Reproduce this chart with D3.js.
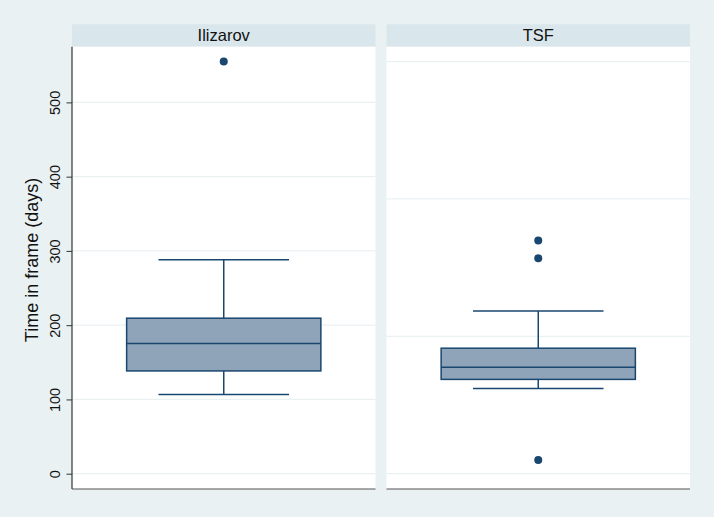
<!DOCTYPE html>
<html>
<head>
<meta charset="utf-8">
<script src="https://cdn.jsdelivr.net/npm/d3@7"></script>
<style>
  html, body { margin: 0; padding: 0; background: #eaf1f3; }
  svg { display: block; font-family: "Liberation Sans", Arial, sans-serif; }
</style>
</head>
<body>
<svg id="chart" width="714" height="517"></svg>
<script>
// ---- data ----
const groups = ["Ilizarov", "TSF"];
const q1 = [138.4, 127];
const medians = [175.2, 143.4];
const q3 = [209.4, 169];
const whiskerLow = [106.5, 114.6];
const whiskerHigh = [288, 219];
const outliers = [[555], [314, 290, 18.5]];
const yTicks = [0, 100, 200, 300, 400, 500];
const tsfGridValues = [0, 185, 370, 555];
const yTitle = "Time in frame (days)";

// ---- layout ----
const W = 714, H = 517;
const plotTop = 46.7, plotBottom = 489, headerTop = 24.3;
const svg = d3.select("#chart");
svg.append("rect").attr("width", W).attr("height", H).attr("fill", "#eaf1f3");

const x = d3.scaleBand().domain(groups).range([72, 690]).paddingInner(0.035).paddingOuter(0);
const y = d3.scaleLinear().domain([-20.6, 575]).range([plotBottom, plotTop]);

const navy = "#1a476f";
const boxFill = "#8fa4b9";
const gridColor = "#eaf1f3";

groups.forEach((g, i) => {
  const x0 = x(g), bw = x.bandwidth(), cx = x0 + bw / 2;
  const panel = svg.append("g");
  // header strip
  panel.append("rect").attr("x", x0).attr("y", headerTop).attr("width", bw)
    .attr("height", plotTop - headerTop).attr("fill", "#d9e6eb");
  panel.append("text").attr("x", cx).attr("y", headerTop + 17)
    .attr("text-anchor", "middle").attr("font-size", 16.5).attr("fill", "#111")
    .text(g);
  // plot bg
  panel.append("rect").attr("x", x0).attr("y", plotTop).attr("width", bw)
    .attr("height", plotBottom - plotTop).attr("fill", "#ffffff");
  // gridlines
  const gv = i === 0 ? yTicks : tsfGridValues;
  panel.selectAll(".grid").data(gv).enter().append("line")
    .attr("x1", x0).attr("x2", x0 + bw)
    .attr("y1", d => y(d)).attr("y2", d => y(d))
    .attr("stroke", gridColor).attr("stroke-width", 1.2);

  const boxW = bw * 0.64, capW = bw * 0.43;
  // whiskers
  panel.append("line").attr("x1", cx).attr("x2", cx)
    .attr("y1", y(q3[i])).attr("y2", y(whiskerHigh[i]))
    .attr("stroke", navy).attr("stroke-width", 1.5);
  panel.append("line").attr("x1", cx).attr("x2", cx)
    .attr("y1", y(q1[i])).attr("y2", y(whiskerLow[i]))
    .attr("stroke", navy).attr("stroke-width", 1.5);
  [whiskerHigh[i], whiskerLow[i]].forEach(v => {
    panel.append("line").attr("x1", cx - capW / 2).attr("x2", cx + capW / 2)
      .attr("y1", y(v)).attr("y2", y(v))
      .attr("stroke", navy).attr("stroke-width", 1.5);
  });
  // box
  panel.append("rect").attr("x", cx - boxW / 2).attr("y", y(q3[i]))
    .attr("width", boxW).attr("height", y(q1[i]) - y(q3[i]))
    .attr("fill", boxFill).attr("stroke", navy).attr("stroke-width", 1.5);
  panel.append("line").attr("x1", cx - boxW / 2).attr("x2", cx + boxW / 2)
    .attr("y1", y(medians[i])).attr("y2", y(medians[i]))
    .attr("stroke", navy).attr("stroke-width", 1.5);
  // outliers
  panel.selectAll(".out").data(outliers[i]).enter().append("circle")
    .attr("cx", cx).attr("cy", d => y(d)).attr("r", 4).attr("fill", navy);
  // bottom axis line
  panel.append("line").attr("x1", x0).attr("x2", x0 + bw)
    .attr("y1", plotBottom).attr("y2", plotBottom)
    .attr("stroke", "#555").attr("stroke-width", 1.2);
});

// left y axis
const axisG = svg.append("g").attr("transform", `translate(${x(groups[0])},0)`);
const yAxis = d3.axisLeft(y).tickValues(yTicks).tickSize(5.5).tickSizeOuter(0);
axisG.call(yAxis);
axisG.select(".domain").attr("stroke", "#333").attr("stroke-width", 1.2)
  .attr("d", `M0,${plotTop}V${plotBottom}`);
axisG.selectAll(".tick line").attr("stroke", "#333");
axisG.selectAll(".tick text")
  .attr("font-size", 14.5).attr("fill", "#111")
  .attr("font-family", "Liberation Sans, Arial, sans-serif")
  .attr("text-anchor", "middle")
  .attr("x", 0).attr("y", 0).attr("dy", 0)
  .attr("transform", "translate(-12.5,0) rotate(-90)");

svg.append("text")
  .attr("transform", `translate(38,260) rotate(-90)`)
  .attr("text-anchor", "middle").attr("font-size", 18).attr("fill", "#111")
  .text(yTitle);
</script>
</body>
</html>
